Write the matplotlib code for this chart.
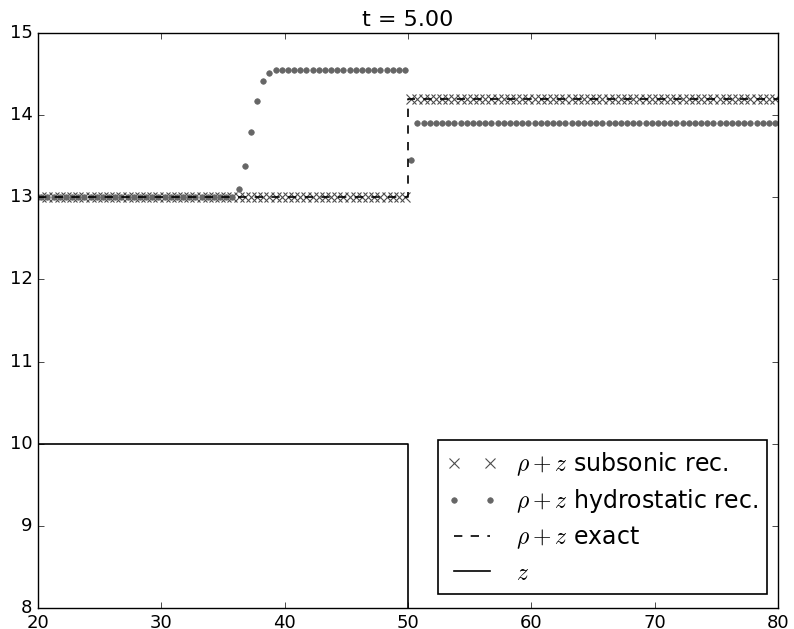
# Water column at t = 5: subsonic vs hydrostatic reconstruction
import numpy as np
import matplotlib
matplotlib.use("Agg")
import matplotlib.pyplot as plt

plt.style.use('classic')

# cell centres shown in the window [20, 80]
x = np.arange(20.25, 80.0, 0.5)

# rho + z, subsonic reconstruction
sub = np.where(x < 50, 13.0, 14.2)

# rho + z, hydrostatic reconstruction
hyd_rise_x = [35.75, 36.25, 36.75, 37.25, 37.75, 38.25, 38.75]
hyd_rise_y = [13.0, 13.1, 13.38, 13.79, 14.17, 14.42, 14.51]
hyd = np.where(x < 50, 14.55, 13.9)
hyd[x < 35.75] = 13.0
for xr, yr in zip(hyd_rise_x, hyd_rise_y):
    hyd[np.isclose(x, xr)] = yr
hyd[np.isclose(x, 50.25)] = 13.45

# exact solution
x_ex = [20, 50, 50, 80]
y_ex = [13.0, 13.0, 14.2, 14.2]

# bottom topography
x_z = [20, 50, 50, 80]
z = [10.0, 10.0, 0.0, 0.0]

fig = plt.figure(figsize=(7.94, 6.29), dpi=100, facecolor='white')
ax = fig.add_axes([0.048, 0.0334, 0.932, 0.914])

ax.plot(x, sub, 'x', color='0.3', markersize=6.5, mew=0.8,
        label=r'$\rho+z$ subsonic rec.')
ax.plot(x, hyd, 'o', color='0.4', mec='0.4', markersize=4,
        label=r'$\rho+z$ hydrostatic rec.')
ax.plot(x_ex, y_ex, 'k--', lw=1.2, label=r'$\rho+z$ exact')
ax.plot(x_z, z, 'k-', lw=1.2, label=r'$z$')

ax.set_xlim(20, 80)
ax.set_ylim(8, 15)
ax.set_xticks([20, 30, 40, 50, 60, 70, 80])
ax.set_yticks([8, 9, 10, 11, 12, 13, 14, 15])
ax.tick_params(labelsize=13)
ax.set_title('t = 5.00', fontsize=16)

leg = ax.legend(loc='lower right', numpoints=2, fontsize=17,
                bbox_to_anchor=(0.985, 0.024), borderaxespad=0,
                handlelength=2.1, labelspacing=0.4)
leg.get_frame().set_edgecolor('black')
leg.get_frame().set_linewidth(1.2)

fig.savefig('out.png', dpi=100, facecolor='white')
